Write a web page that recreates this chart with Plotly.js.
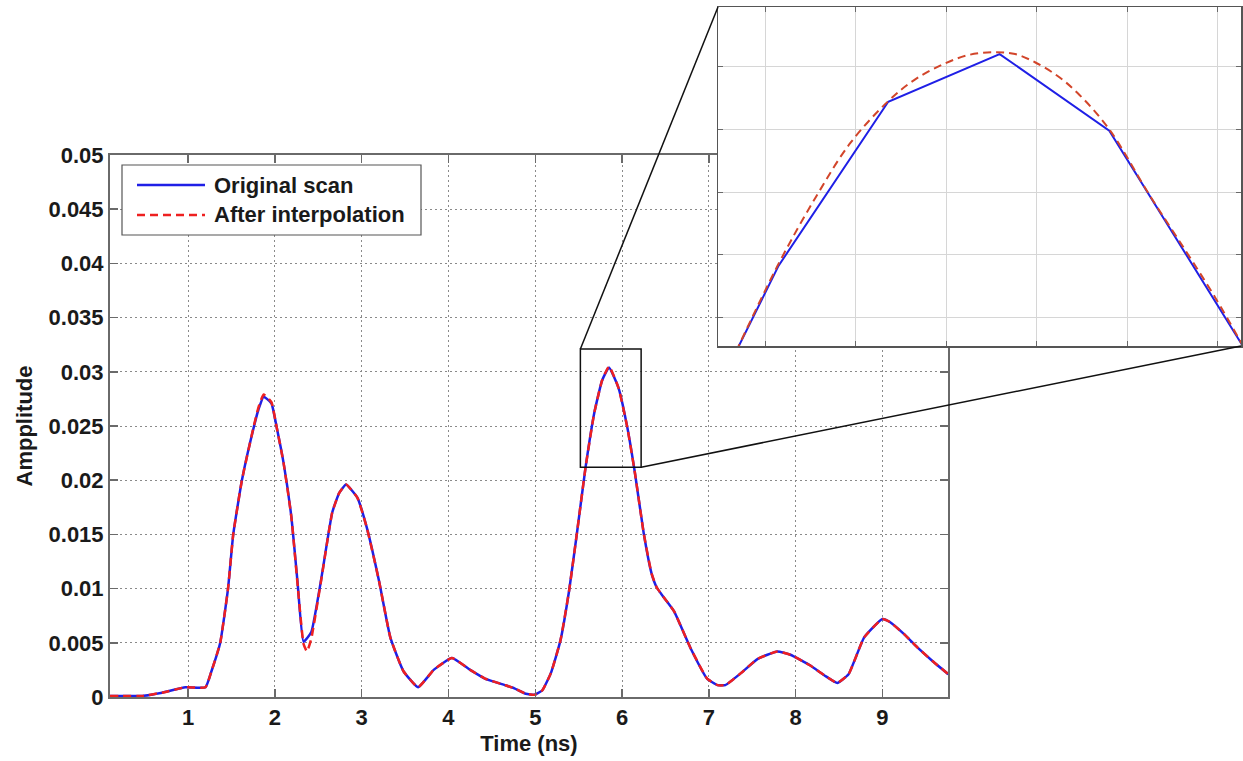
<!DOCTYPE html>
<html><head><meta charset="utf-8">
<script src="https://cdn.plot.ly/plotly-3.0.1.min.js"></script>
<style>html,body{margin:0;padding:0;background:#fff}#chart{width:1243px;height:761px}</style>
</head><body><div id="chart"></div>
<script>
// ---------- data ----------
const seriesNames = ['Original scan', 'After interpolation'];

const scanTime = [0.10,0.47,0.70,0.97,1.20,1.27,1.37,1.46,1.52,1.62,1.76,1.81,1.87,1.96,2.02,2.10,2.19,2.26,2.33,2.42,2.53,2.66,2.74,2.82,2.95,3.06,3.20,3.33,3.48,3.65,3.83,4.04,4.25,4.42,4.65,4.76,4.89,4.99,5.08,5.18,5.29,5.39,5.48,5.58,5.68,5.77,5.85,5.96,6.06,6.15,6.25,6.34,6.40,6.48,6.60,6.79,6.98,7.10,7.19,7.37,7.56,7.79,7.94,8.17,8.35,8.48,8.61,8.79,9.00,9.09,9.25,9.40,9.58,9.76];
const scanAmp  = [0.0001,0.0001,0.0004,0.0009,0.0009,0.0024,0.0050,0.0100,0.0150,0.0200,0.0250,0.0265,0.0277,0.0271,0.0249,0.0216,0.0166,0.0107,0.0051,0.0060,0.0107,0.0170,0.0188,0.0196,0.0184,0.0156,0.0107,0.0055,0.0024,0.0009,0.0025,0.0036,0.0025,0.0017,0.0011,0.0008,0.0003,0.0002,0.0006,0.0022,0.0052,0.0098,0.0151,0.0212,0.0262,0.0292,0.0304,0.0285,0.0249,0.0206,0.0151,0.0114,0.0101,0.0092,0.0079,0.0045,0.0017,0.0011,0.0011,0.0022,0.0035,0.0042,0.0039,0.0029,0.0019,0.0013,0.0021,0.0055,0.0072,0.0069,0.0058,0.0046,0.0033,0.0021];

const interpTime = [0.10,0.47,0.70,0.97,1.20,1.27,1.37,1.46,1.52,1.62,1.76,1.81,1.87,1.96,2.02,2.10,2.19,2.26,2.33,2.37,2.42,2.53,2.66,2.74,2.82,2.95,3.06,3.20,3.33,3.48,3.65,3.83,4.04,4.25,4.42,4.65,4.76,4.89,4.99,5.08,5.18,5.29,5.39,5.48,5.58,5.68,5.77,5.85,5.96,6.06,6.15,6.25,6.34,6.40,6.48,6.60,6.79,6.98,7.10,7.19,7.37,7.56,7.79,7.94,8.17,8.35,8.48,8.61,8.79,9.00,9.09,9.25,9.40,9.58,9.76];
const interpAmp  = [0.0001,0.0001,0.0004,0.0009,0.0009,0.0024,0.0050,0.0100,0.0150,0.0200,0.0251,0.0267,0.0279,0.0272,0.0249,0.0216,0.0166,0.0105,0.0049,0.0042,0.0054,0.0106,0.0170,0.0188,0.0196,0.0184,0.0156,0.0107,0.0055,0.0024,0.0009,0.0025,0.0036,0.0025,0.0017,0.0011,0.0008,0.0003,0.0002,0.0006,0.0022,0.0052,0.0098,0.0151,0.0212,0.0262,0.0292,0.0305,0.0285,0.0249,0.0206,0.0151,0.0114,0.0101,0.0092,0.0079,0.0045,0.0017,0.0011,0.0011,0.0022,0.0035,0.0042,0.0039,0.0029,0.0019,0.0013,0.0021,0.0055,0.0072,0.0069,0.0058,0.0046,0.0033,0.0021];

// magnified view of the main peak (inset)
const zoomScanTime = [5.8168,5.8215,5.8336,5.8459,5.8580,5.8730];
const zoomScanAmp  = [0.029846,0.029983,0.030244,0.030320,0.030198,0.029849];
const zoomInterpTime = [5.8168,5.8215,5.8256,5.8294,5.8336,5.8365,5.8397,5.8426,5.8454,5.8476,5.8498,5.8523,5.8545,5.8580,5.8625,5.8665,5.8697,5.8730];
const zoomInterpAmp  = [0.029846,0.029986,0.030092,0.030178,0.030245,0.030279,0.030304,0.030319,0.030323,0.030320,0.030307,0.030285,0.030258,0.030200,0.030094,0.030005,0.029932,0.029849];

// zoom rectangle drawn on the main axes
const zoomBoxTime = [5.52, 6.22];
const zoomBoxAmp  = [0.0212, 0.0321];

// tick labels
const xTickVals = [1,2,3,4,5,6,7,8,9];
const xTickText = ['1','2','3','4','5','6','7','8','9'];
const yTickVals = [0,0.005,0.01,0.015,0.02,0.025,0.03,0.035,0.04,0.045,0.05];
const yTickText = ['0','0.005','0.01','0.015','0.02','0.025','0.03','0.035','0.04','0.045','0.05'];

// ---------- layout geometry ----------
const W = 1243, H = 761;
const M = {l:110, r:2, t:7, b:64};
const PW = W - M.l - M.r, PH = H - M.t - M.b;
const pxX = p => (p - M.l) / PW;
const pxY = p => (H - M.b - p) / PH;

const mainXDom = [0, pxX(948)], mainYDom = [0, pxY(155)];
const mainXRange = [0.1, 9.756], mainYRange = [0, 0.05];
const insetXDom = [pxX(718), 1], insetYDom = [pxY(346), 1];
const insetXRange = [5.81481, 5.87254], insetYRange = [0.029855, 0.030395];

const dataToPaperX = t => mainXDom[0] + (t - mainXRange[0]) / (mainXRange[1] - mainXRange[0]) * (mainXDom[1] - mainXDom[0]);
const dataToPaperY = v => mainYDom[0] + (v - mainYRange[0]) / (mainYRange[1] - mainYRange[0]) * (mainYDom[1] - mainYDom[0]);

const BLUE = '#1f1fe6', RED = '#ee2020';
const FONT = {family: 'Arial, "Liberation Sans", sans-serif', size: 22, color: '#1a1a1a', weight: 'bold'};
const AXC = '#6a6a6a';

const traces = [
  {x: scanTime, y: scanAmp, name: seriesNames[0], type: 'scatter', mode: 'lines',
   line: {color: BLUE, width: 2.5, shape: 'spline', smoothing: 0.4}, xaxis: 'x', yaxis: 'y'},
  {x: interpTime, y: interpAmp, name: seriesNames[1], type: 'scatter', mode: 'lines',
   line: {color: RED, width: 2.5, dash: '8px,5px', shape: 'spline', smoothing: 0.4}, xaxis: 'x', yaxis: 'y'},
  {x: zoomScanTime, y: zoomScanAmp, name: seriesNames[0], type: 'scatter', mode: 'lines',
   line: {color: BLUE, width: 2}, xaxis: 'x2', yaxis: 'y2', showlegend: false},
  {x: zoomInterpTime, y: zoomInterpAmp, name: seriesNames[1], type: 'scatter', mode: 'lines',
   line: {color: '#d2452a', width: 2, dash: '8px,5px', shape: 'spline'}, xaxis: 'x2', yaxis: 'y2', showlegend: false}
];

// manual legend (MATLAB-style long line samples)
const legBox = {x0: pxX(122), x1: pxX(421), y0: pxY(235), y1: pxY(165)};
const shapes = [
  {type: 'rect', xref: 'paper', yref: 'paper', x0: legBox.x0, x1: legBox.x1, y0: legBox.y0, y1: legBox.y1,
   line: {color: '#555', width: 1.2}, fillcolor: '#ffffff', layer: 'above'},
  {type: 'line', xref: 'paper', yref: 'paper', x0: pxX(137), x1: pxX(205), y0: pxY(185), y1: pxY(185),
   line: {color: BLUE, width: 2.5}, layer: 'above'},
  {type: 'line', xref: 'paper', yref: 'paper', x0: pxX(137), x1: pxX(205), y0: pxY(215), y1: pxY(215),
   line: {color: RED, width: 2.5, dash: '8px,5px'}, layer: 'above'},
  // zoom rectangle
  {type: 'rect', xref: 'x', yref: 'y', x0: zoomBoxTime[0], x1: zoomBoxTime[1], y0: zoomBoxAmp[0], y1: zoomBoxAmp[1],
   line: {color: '#111', width: 1.5}, layer: 'above'},
  // connectors
  {type: 'line', xref: 'paper', yref: 'paper',
   x0: dataToPaperX(zoomBoxTime[0]), y0: dataToPaperY(zoomBoxAmp[1]), x1: insetXDom[0], y1: insetYDom[1],
   line: {color: '#111', width: 1.5}, layer: 'above'},
  {type: 'line', xref: 'paper', yref: 'paper',
   x0: dataToPaperX(zoomBoxTime[1]), y0: dataToPaperY(zoomBoxAmp[0]), x1: insetXDom[1], y1: insetYDom[0],
   line: {color: '#111', width: 1.5}, layer: 'above'}
];

const annotations = [
  {xref: 'paper', yref: 'paper', x: pxX(212), y: pxY(185), xanchor: 'left', yanchor: 'middle',
   text: seriesNames[0], showarrow: false, font: FONT},
  {xref: 'paper', yref: 'paper', x: pxX(212), y: pxY(215), xanchor: 'left', yanchor: 'middle',
   text: seriesNames[1], showarrow: false, font: FONT}
];

const layout = {
  width: W, height: H,
  margin: M,
  paper_bgcolor: '#ffffff', plot_bgcolor: '#ffffff',
  showlegend: false,
  font: FONT,
  xaxis: {
    domain: mainXDom, range: mainXRange, anchor: 'y',
    tickvals: xTickVals, ticktext: xTickText,
    ticks: 'inside', ticklen: 8, tickwidth: 1.5, tickcolor: AXC,
    showline: true, linecolor: AXC, linewidth: 2, mirror: 'ticks',
    showgrid: true, gridcolor: '#8a8a8a', gridwidth: 1, griddash: '2px,3px',
    zeroline: false, tickfont: FONT,
    title: {text: 'Time (ns)', font: FONT, standoff: 6}
  },
  yaxis: {
    domain: mainYDom, range: mainYRange, anchor: 'x',
    tickvals: yTickVals, ticktext: yTickText,
    ticks: 'inside', ticklen: 8, tickwidth: 1.5, tickcolor: AXC,
    showline: true, linecolor: AXC, linewidth: 2, mirror: 'ticks',
    showgrid: true, gridcolor: '#8a8a8a', gridwidth: 1, griddash: '2px,3px',
    zeroline: false, tickfont: FONT,
    title: {text: 'Ampplitude', font: FONT, standoff: 10}
  },
  xaxis2: {
    domain: insetXDom, range: insetXRange, anchor: 'y2',
    dtick: 0.01, tick0: 5.8, showticklabels: false,
    ticks: 'inside', ticklen: 5, tickcolor: AXC,
    showline: true, linecolor: '#555', linewidth: 1.5, mirror: 'ticks',
    showgrid: true, gridcolor: '#d6d6d6', gridwidth: 1, zeroline: false
  },
  yaxis2: {
    domain: insetYDom, range: insetYRange, anchor: 'x2',
    dtick: 0.0001, tick0: 0, showticklabels: false,
    ticks: 'inside', ticklen: 5, tickcolor: AXC,
    showline: true, linecolor: '#555', linewidth: 1.5, mirror: 'ticks',
    showgrid: true, gridcolor: '#d6d6d6', gridwidth: 1, zeroline: false
  },
  shapes: shapes,
  annotations: annotations
};

Plotly.newPlot('chart', traces, layout, {staticPlot: true, displayModeBar: false});
</script>
</body></html>
